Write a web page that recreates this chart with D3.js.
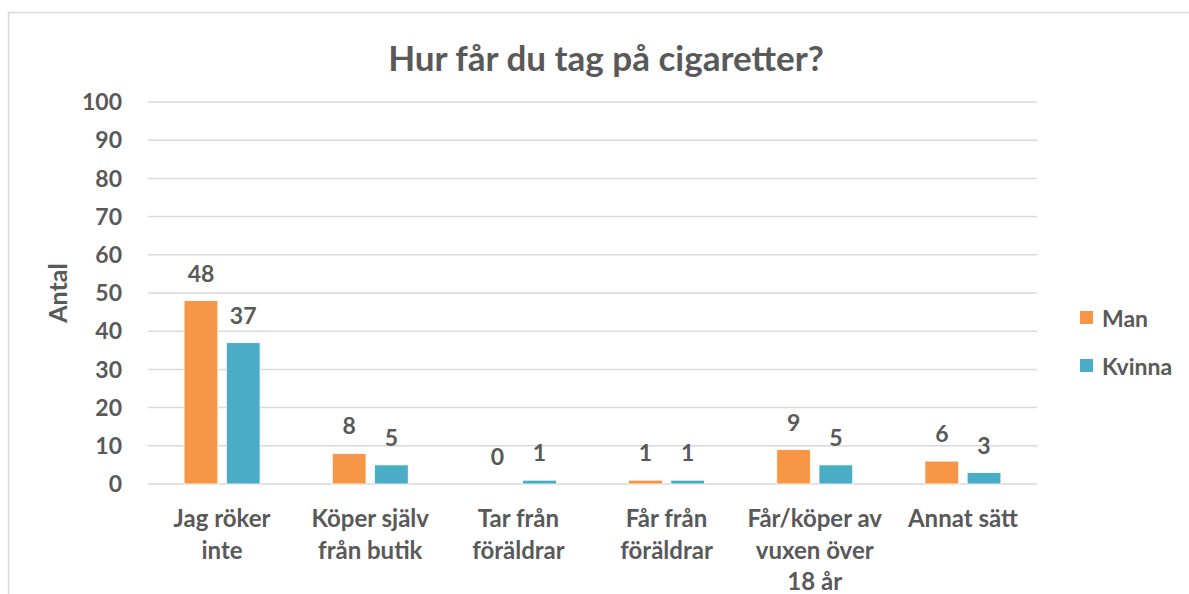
<!DOCTYPE html>
<html>
<head>
<meta charset="utf-8">
<script src="https://cdn.jsdelivr.net/npm/d3@7"></script>
<style>
  body { margin: 0; background: #fff; }
  text { font-family: Lato, "Open Sans", sans-serif; font-weight: 700; fill: #595959; }
</style>
</head>
<body>
<svg width="1189" height="594"></svg>
<script>
  // Data
  const
    CATEGORIES = [
      ["Jag röker", "inte"],
      ["Köper själv", "från butik"],
      ["Tar från", "föräldrar"],
      ["Får från", "föräldrar"],
      ["Får/köper av", "vuxen över", "18 år"],
      ["Annat sätt"],
    ],
    SERIES = ["Man", "Kvinna"],
    MAN = [48, 8, 0, 1, 9, 6],
    KVINNA = [37, 5, 1, 1, 5, 3],
    Y_TICKS = [0, 10, 20, 30, 40, 50, 60, 70, 80, 90, 100],
    COLORS = ["#F79646", "#4BACC6"]
  ;
  const values = [MAN, KVINNA];
  const svg = d3.select("svg");

  // Chart frame
  svg.append("rect")
    .attr("x", 8.5).attr("y", 12.5)
    .attr("width", 1200).attr("height", 600)
    .attr("fill", "none")
    .attr("stroke", "#d9d9d9")
    .attr("stroke-width", 1.5);

  svg.append("text")
    .attr("x", 606).attr("y", 71)
    .attr("text-anchor", "middle")
    .style("font-size", "35px")
    .text("Hur får du tag på cigaretter?");

  const x0 = d3.scaleBand()
    .domain(d3.range(CATEGORIES.length))
    .range([148, 1037])
    .paddingInner(0.487)
    .paddingOuter(0.2435);
  const x1 = d3.scaleBand()
    .domain(SERIES)
    .range([0, x0.bandwidth()])
    .paddingInner(0.2);
  const y = d3.scaleLinear().domain([0, 100]).range([484, 102]);

  // Gridlines and y tick labels
  svg.append("g")
    .selectAll("line")
    .data(Y_TICKS).enter()
    .append("line")
      .attr("x1", 148).attr("x2", 1037)
      .attr("y1", d => y(d)).attr("y2", d => y(d))
      .attr("stroke", "#d9d9d9")
      .attr("stroke-width", 1.5);
  svg.append("g")
    .selectAll("text")
    .data(Y_TICKS).enter()
    .append("text")
      .attr("x", 122)
      .attr("y", d => y(d))
      .attr("dy", "0.36em")
      .attr("text-anchor", "end")
      .style("font-size", "23px")
      .text(d => d);

  svg.append("text")
    .attr("transform", "translate(67,293) rotate(-90)")
    .attr("text-anchor", "middle")
    .style("font-size", "25px")
    .text("Antal");

  // Bars and value labels
  const groups = svg.append("g")
    .selectAll("g")
    .data(CATEGORIES.map((c, i) => i)).enter()
    .append("g")
      .attr("transform", i => `translate(${x0(i)},0)`);

  groups.selectAll("rect")
    .data(i => SERIES.map((s, k) => ({s, k, v: values[k][i]}))).enter()
    .append("rect")
      .attr("x", d => x1(d.s))
      .attr("y", d => y(d.v))
      .attr("width", x1.bandwidth())
      .attr("height", d => y(0) - y(d.v))
      .attr("fill", d => COLORS[d.k])
      .attr("stroke", "#fff")
      .attr("stroke-width", 0.8);

  groups.selectAll("text")
    .data(i => SERIES.map((s, k) => ({s, k, v: values[k][i]}))).enter()
    .append("text")
      .attr("x", d => x1(d.s) + x1.bandwidth() / 2)
      .attr("y", d => y(d.v) - 19)
      .attr("text-anchor", "middle")
      .style("font-size", "23px")
      .text(d => d.v);

  // Category labels
  svg.append("g")
    .selectAll("text")
    .data(CATEGORIES).enter()
    .append("text")
      .attr("x", (d, i) => x0(i) + x0.bandwidth() / 2)
      .attr("y", 527)
      .attr("text-anchor", "middle")
      .style("font-size", "24px")
      .call(function(text) {
        text.selectAll("tspan")
          .data(d => d).enter()
          .append("tspan")
            .attr("x", function() { return this.parentNode.getAttribute("x"); })
            .attr("y", (d, j) => 527 + j * 31.5)
            .text(d => d);
      });

  // Legend
  const legend = svg.append("g")
    .selectAll("g")
    .data(SERIES).enter()
    .append("g")
      .attr("transform", (d, k) => `translate(1080,${311 + k * 48})`);
  legend.append("rect")
    .attr("width", 13).attr("height", 13)
    .attr("fill", (d, k) => COLORS[k]);
  legend.append("text")
    .attr("x", 22).attr("y", 16)
    .style("font-size", "23px")
    .text(d => d);
</script>
</body>
</html>
